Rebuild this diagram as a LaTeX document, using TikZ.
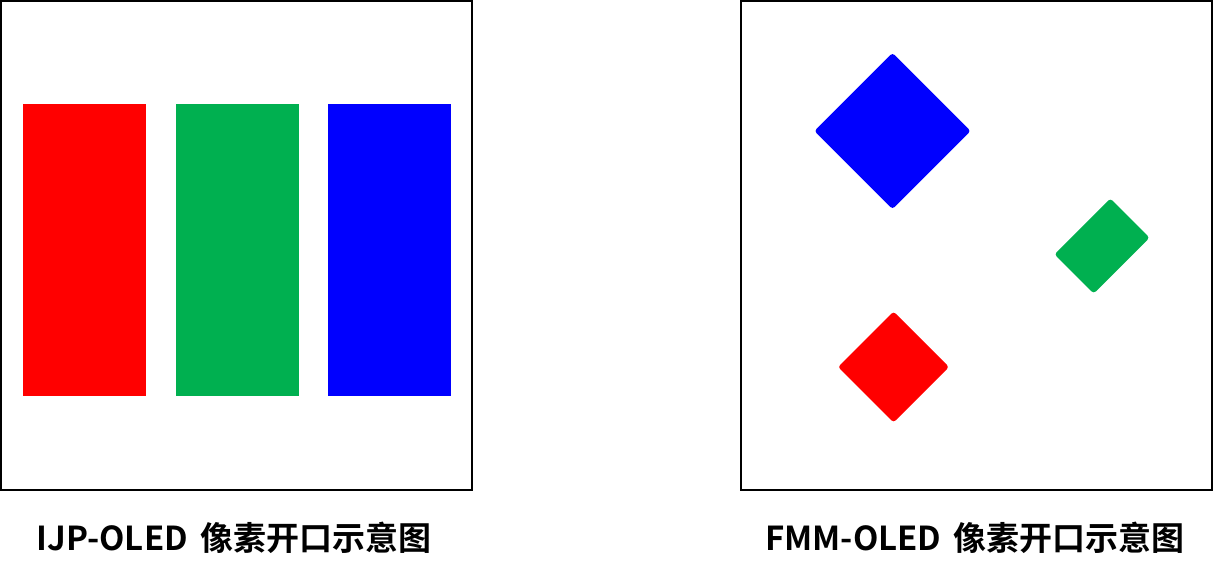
\documentclass[tikz,border=0pt]{standalone}
\usepackage{fontspec}
\newfontfamily\cjk{Noto Sans CJK SC}[BoldFont={Noto Sans CJK SC Bold}]
\definecolor{pixred}{HTML}{FF0000}
\definecolor{pixgreen}{HTML}{00B050}
\definecolor{pixblue}{HTML}{0000FF}
\begin{document}
\begin{tikzpicture}[x=1pt, y=-1pt,
  panel/.style={draw=black, line width=1.6pt, minimum width=471pt, minimum height=489pt, inner sep=0pt},
  bar/.style={minimum width=123pt, minimum height=292pt, inner sep=0pt},
  opening/.style={rotate=-45, rounded corners=3pt, inner sep=0pt},
  caption/.style={font=\cjk\bfseries\fontsize{33}{40}\selectfont, inner sep=0pt}]
  \useasboundingbox (0,0) rectangle (1214,577);

  % Left panel (IJP)
  \node[panel] (L) at (236.5, 245.5) {};
  \node[bar, fill=pixred] (rL) at (84.5, 250) {};
  \node[bar, fill=pixgreen] (gL) at (237.5, 250) {};
  \node[bar, fill=pixblue] (bL) at (389.5, 250) {};
  \node[caption] (capL) at (234, 538) {IJP-OLED\hspace{0.15em} 像素开口示意图};

  % Right panel (FMM)
  \node[panel] (R) at (976.5, 245.5) {};
  \node[opening, fill=pixblue, minimum width=110.5pt, minimum height=110.5pt] (bR) at (892.5, 131) {};
  \node[opening, fill=pixgreen, minimum width=55.5pt, minimum height=79pt] (gR) at (1102, 246) {};
  \node[opening, fill=pixred, minimum width=78.5pt, minimum height=78.5pt] (rR) at (893.5, 367) {};
  \node[caption] (capR) at (975, 538) {FMM-OLED\hspace{0.15em} 像素开口示意图};
\end{tikzpicture}
\end{document}
